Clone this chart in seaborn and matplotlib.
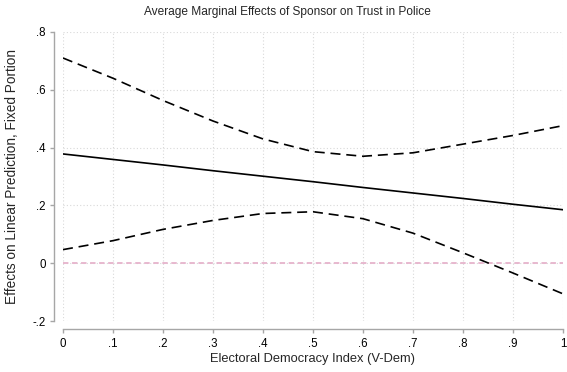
import matplotlib
matplotlib.use("Agg")
import matplotlib.pyplot as plt
import seaborn as sns
import pandas as pd

# Marginal effect of sponsor across levels of electoral democracy
democracy = [0.0, 0.1, 0.2, 0.3, 0.4, 0.5, 0.6, 0.7, 0.8, 0.9, 1.0]
effect = [0.378, 0.359, 0.340, 0.320, 0.301, 0.282, 0.262, 0.243, 0.224, 0.204, 0.185]
ci_upper = [0.710, 0.640, 0.563, 0.492, 0.430, 0.386, 0.370, 0.382, 0.412, 0.442, 0.476]
ci_lower = [0.047, 0.078, 0.117, 0.148, 0.172, 0.178, 0.154, 0.104, 0.036, -0.034, -0.106]

x_ticks = [0, 0.1, 0.2, 0.3, 0.4, 0.5, 0.6, 0.7, 0.8, 0.9, 1.0]
x_tick_labels = ["0", ".1", ".2", ".3", ".4", ".5", ".6", ".7", ".8", ".9", "1"]
y_ticks = [-0.2, 0, 0.2, 0.4, 0.6, 0.8]
y_tick_labels = ["-.2", "0", ".2", ".4", ".6", ".8"]

df = pd.DataFrame({"x": democracy, "effect": effect,
                   "upper": ci_upper, "lower": ci_lower})

sns.set_theme(style="white")
plt.rcParams["font.family"] = ["Liberation Sans", "DejaVu Sans"]
plt.rcParams["xtick.labelsize"] = 8.3
plt.rcParams["ytick.labelsize"] = 8.3

fig = plt.figure(figsize=(5.67, 3.72), dpi=100)
ax = fig.add_axes([63 / 567, 51 / 372, 500 / 567, 289 / 372])

# light dotted grid
for xv in x_ticks:
    ax.axvline(xv, color="#d9d9d9", lw=0.8, ls=(0, (1, 2)), zorder=0)
for yv in y_ticks:
    ax.axhline(yv, color="#d9d9d9", lw=0.8, ls=(0, (1, 2)), zorder=0)

ax.axhline(0, color="#e6b3cc", lw=1.3, ls=(0, (3, 2)), zorder=1)

sns.lineplot(data=df, x="x", y="upper", ax=ax, color="black", lw=1.2,
             linestyle=(0, (6, 3.5)))
sns.lineplot(data=df, x="x", y="lower", ax=ax, color="black", lw=1.2,
             linestyle=(0, (6, 3.5)))
sns.lineplot(data=df, x="x", y="effect", ax=ax, color="black", lw=1.2)

ax.set_xlim(0, 1)
ax.set_ylim(-0.2, 0.8)
ax.set_xticks(x_ticks)
ax.set_xticklabels(x_tick_labels)
ax.set_yticks(y_ticks)
ax.set_yticklabels(y_tick_labels)

for side in ["top", "right"]:
    ax.spines[side].set_visible(False)
ax.spines["left"].set_position(("outward", 6.8))
ax.spines["bottom"].set_position(("outward", 6.1))
for side in ["left", "bottom"]:
    ax.spines[side].set_color("#a6a6a6")
    ax.spines[side].set_linewidth(1.0)
ax.tick_params(axis="both", which="major", direction="out", length=2.8,
               width=1.0, color="#a6a6a6", pad=3, labelcolor="black",
               labelsize=8.3, bottom=True, left=True)

ax.set_xlabel("Electoral Democracy Index (V-Dem)", fontsize=9.3)
ax.xaxis.set_label_coords(0.5, -0.112)
ax.set_ylabel("Effects on Linear Prediction, Fixed Portion", fontsize=9.8)
ax.yaxis.set_label_coords(-0.088, 0.5)
fig.text(287 / 567, 1 - 12 / 372,
         "Average Marginal Effects of Sponsor on Trust in Police",
         fontsize=8.6, ha="center", va="center")

fig.savefig("out.png", dpi=100)
